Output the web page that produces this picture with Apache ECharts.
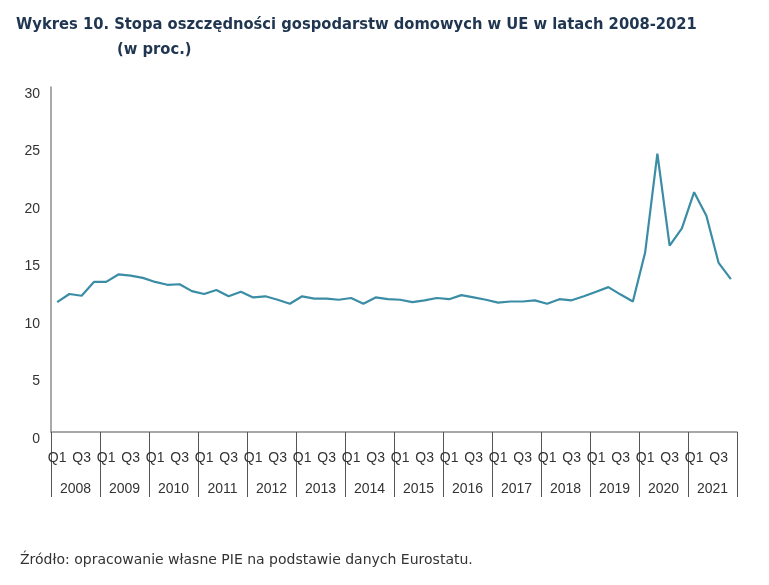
<!DOCTYPE html>
<html>
<head>
<meta charset="utf-8">
<script src="https://cdn.jsdelivr.net/npm/echarts@6/dist/echarts.min.js"></script>
<style>html,body{margin:0;padding:0;background:#fff;}#c{width:769px;height:585px;}</style>
</head>
<body>
<div id="c"></div>
<script>
var years = ['2008','2009','2010','2011','2012','2013','2014','2015','2016','2017','2018','2019','2020','2021'];
var quarters = ['Q1','Q2','Q3','Q4'];
var yTicks = [0,5,10,15,20,25,30];
var savingRate = [
  11.3, 12.0, 11.85, 13.05, 13.05, 13.7, 13.6, 13.4,
  13.05, 12.8, 12.85, 12.25, 12.0, 12.35, 11.8, 12.2,
  11.7, 11.8, 11.5, 11.15, 11.8, 11.6, 11.6, 11.5,
  11.65, 11.15, 11.7, 11.55, 11.5, 11.3, 11.45, 11.65,
  11.55, 11.9, 11.7, 11.5, 11.25, 11.35, 11.35, 11.45,
  11.15, 11.55, 11.45, 11.8, 12.2, 12.6, 11.95, 11.35,
  15.6, 24.2, 16.2, 17.7, 20.85, 18.8, 14.7, 13.3
];

var categories = [];
years.forEach(function(y){ quarters.forEach(function(q){ categories.push(y + ' ' + q); }); });

var chart = echarts.init(document.getElementById('c'));
var axisGray = '#8c8c8c';
var titleFont = 'Liberation Sans Narrow, DejaVu Sans Condensed, sans-serif';
chart.setOption({
  animation: false,
  title: [
    { text: 'Wykres 10. Stopa oszczędności gospodarstw domowych w UE w latach 2008-2021', left: 11, top: 12,
      textStyle: { fontFamily: titleFont, fontWeight: 'bold', fontSize: 16.4, color: '#1f3550' } },
    { text: '(w proc.)', left: 112, top: 37,
      textStyle: { fontFamily: titleFont, fontWeight: 'bold', fontSize: 16.4, color: '#1f3550' } },
    { text: 'Źródło: opracowanie własne PIE na podstawie danych Eurostatu.', left: 15, top: 548,
      textStyle: { fontFamily: 'DejaVu Sans, sans-serif', fontWeight: 'normal', fontSize: 14, color: '#333333' } }
  ],
  grid: { left: 51, right: 32, top: 87, bottom: 153 },
  xAxis: [
    {
      type: 'category', data: categories, boundaryGap: true, position: 'bottom',
      axisLine: { show: true, lineStyle: { color: axisGray, width: 1.5 } },
      axisTick: { show: false },
      axisLabel: { interval: 1, margin: 19, fontFamily: 'Liberation Sans, Arial, sans-serif', fontSize: 14, color: '#333',
        formatter: function(v){ return v.split(' ')[1]; } }
    },
    {
      type: 'category', data: years, boundaryGap: true, position: 'bottom',
      axisLine: { show: false },
      axisTick: { show: true, length: 65, lineStyle: { color: '#555', width: 1 } },
      axisLabel: { interval: 0, margin: 50, fontFamily: 'Liberation Sans, Arial, sans-serif', fontSize: 14, color: '#333' }
    }
  ],
  yAxis: {
    type: 'value', min: 0, max: 30, interval: 5,
    axisLine: { show: true, lineStyle: { color: axisGray, width: 1.5 } },
    axisTick: { show: false },
    splitLine: { show: false },
    axisLabel: { margin: 11, verticalAlign: 'top', fontFamily: 'Liberation Sans, Arial, sans-serif', fontSize: 14, color: '#333',
      formatter: function(v){ return yTicks.indexOf(v) >= 0 ? String(v) : ''; } }
  },
  series: [{
    type: 'line', data: savingRate, xAxisIndex: 0, showSymbol: false, symbol: 'none',
    lineStyle: { color: '#3b8da6', width: 2.2 }
  }]
});
</script>
</body>
</html>
